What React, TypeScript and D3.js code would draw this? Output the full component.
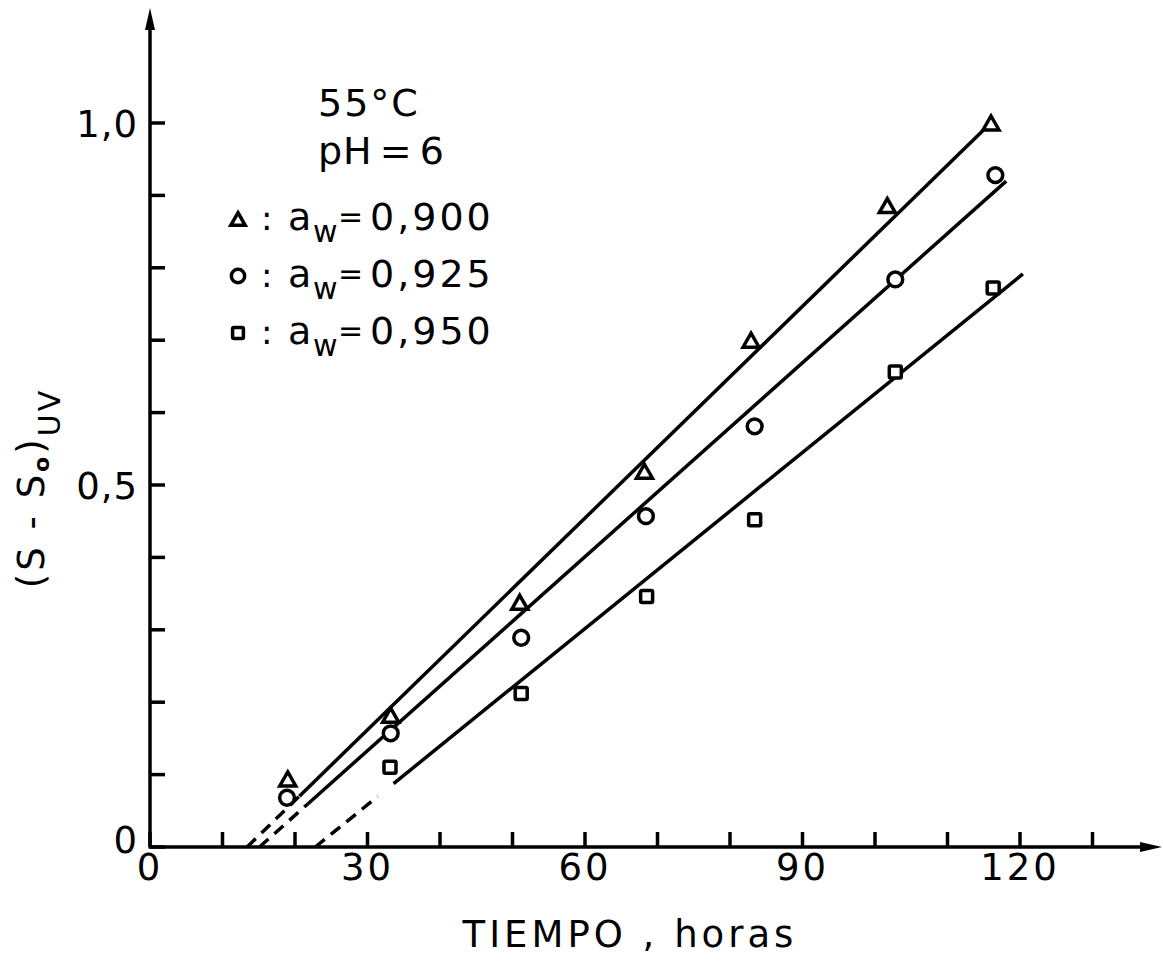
import React from "react";
import * as d3 from "d3";

// Measured absorbance increase (S - S0) at 55 °C, pH 6, by water activity
const hours900 = [19, 33.2, 51, 68.2, 82.9, 101.7, 116];
const vals900 = [0.094, 0.182, 0.338, 0.519, 0.7, 0.886, 1.0];
const hours925 = [18.9, 33.2, 51.2, 68.4, 83.4, 102.8, 116.6];
const vals925 = [0.068, 0.157, 0.289, 0.457, 0.581, 0.784, 0.928];
const hours950 = [33.1, 51.2, 68.5, 83.4, 102.8, 116.3];
const vals950 = [0.11, 0.212, 0.346, 0.452, 0.656, 0.772];

// Fitted straight lines: lag time (x-intercept) and slope, with drawn extents
const fitLag = [13.4, 15.1, 22.8];
const fitSlope = [0.00975, 0.00893, 0.00811];
const fitDashTo = [20.6, 21.8, 31.4];
const fitSolidFrom = [20.6, 21.8, 33.6];
const fitSolidTo = [114.9, 118.1, 120.4];

const legendValues = ["0,900", "0,925", "0,950"];
const markerKinds = ["triangle", "circle", "square"];

const xTickValues = d3.range(0, 131, 10);
const xLabelValues = [0, 30, 60, 90, 120];
const xLabelText = ["0", "30", "60", "90", "120"];
const yTickValues = d3.range(0, 10.5, 1).map((d) => d / 10);
const yLabelValues = [0, 0.5, 1.0];
const yLabelText = ["0", "0,5", "1,0"];

const W = 1163;
const H = 963;
const FONT = "'DejaVu Sans', sans-serif";
const SW = 3.5;

const x = d3.scaleLinear().domain([0, 120]).range([150, 1020]);
const y = d3.scaleLinear().domain([0, 1]).range([847, 123]);

function Marker({ kind, cx, cy, s }: { kind: string; cx: number; cy: number; s: number }) {
  if (kind === "triangle") {
    const w = 16 * s;
    const h = 14 * s;
    const p = `M${cx},${cy - h / 2}L${cx + w / 2},${cy + h / 2}L${cx - w / 2},${cy + h / 2}Z`;
    return <path d={p} fill="white" stroke="black" strokeWidth={SW} strokeLinejoin="miter" />;
  }
  if (kind === "circle") {
    return <circle cx={cx} cy={cy} r={7.4 * s} fill="white" stroke="black" strokeWidth={SW} />;
  }
  const a = 12 * s;
  return (
    <rect x={cx - a / 2} y={cy - a / 2} width={a} height={a} rx={1.5} fill="white" stroke="black" strokeWidth={SW} />
  );
}

export default function App() {
  const series = [
    { hours: hours900, vals: vals900 },
    { hours: hours925, vals: vals925 },
    { hours: hours950, vals: vals950 },
  ];

  const fitPath = (i: number, a: number, b: number) =>
    d3
      .line<number>()
      .x((h) => x(h))
      .y((h) => y(fitSlope[i] * (h - fitLag[i])))([a, b]) as string;

  const axisY0 = y(0);
  const axisX0 = x(0);

  return (
    <svg
      width={W}
      height={H}
      viewBox={`0 0 ${W} ${H}`}
      style={{ position: "absolute", left: 0, top: 0, background: "white" }}
      fontFamily={FONT}
    >
      <rect x={0} y={0} width={W} height={H} fill="white" />

      {/* axes */}
      <line x1={axisX0 - 1.5} y1={axisY0} x2={1148} y2={axisY0} stroke="black" strokeWidth={SW} />
      <path d={`M1162,${axisY0}L1140,${axisY0 - 5}L1140,${axisY0 + 5}Z`} fill="black" />
      <line x1={axisX0} y1={axisY0} x2={axisX0} y2={24} stroke="black" strokeWidth={SW} />
      <path d={`M${axisX0},8L${axisX0 - 5},30L${axisX0 + 5},30Z`} fill="black" />

      {xTickValues.map((t) => (
        <line key={`xt${t}`} x1={x(t)} x2={x(t)} y1={axisY0} y2={axisY0 - 15} stroke="black" strokeWidth={SW} />
      ))}
      {yTickValues.map((t) => (
        <line key={`yt${t}`} x1={axisX0} x2={axisX0 + 15} y1={y(t)} y2={y(t)} stroke="black" strokeWidth={SW} />
      ))}

      {xLabelValues.map((t, i) => (
        <text key={`xl${t}`} x={x(t)} y={axisY0 + 33} textAnchor="middle" fontSize={37} letterSpacing={3}>
          {xLabelText[i]}
        </text>
      ))}
      {yLabelValues.map((t, i) => (
        <text
          key={`yl${t}`}
          x={axisX0 - 12}
          y={y(t) + (t === 0 ? 6 : 14)}
          textAnchor="end"
          fontSize={37}
          letterSpacing={1}
        >
          {yLabelText[i]}
        </text>
      ))}

      <text x={630} y={947} textAnchor="middle" fontSize={37} letterSpacing={4}>
        TIEMPO , horas
      </text>

      <text transform="translate(44,488) rotate(-90)" textAnchor="middle" fontSize={37} letterSpacing={3}>
        (S - S
        <tspan fontSize={22} fontWeight="bold" dy={5}>o</tspan>
        <tspan dy={-5}>)</tspan>
        <tspan fontSize={30} dy={16}>UV</tspan>
      </text>

      {/* conditions and legend */}
      <text x={318} y={116} fontSize={38} letterSpacing={2}>
        55°C
      </text>
      <text x={318} y={164} fontSize={38} letterSpacing={1} wordSpacing={-6}>
        pH = 6
      </text>
      {legendValues.map((v, i) => {
        const base = 230 + i * 57;
        return (
          <g key={`lg${v}`}>
            <Marker kind={markerKinds[i]} cx={238} cy={base - 11} s={0.9} />
            <text x={261} y={base} fontSize={34}>:</text>
            <text x={288} y={base} fontSize={38}>a</text>
            <text x={313} y={base + 12} fontSize={30}>w</text>
            <text x={338} y={base - 3} fontSize={30}>=</text>
            <text x={370} y={base} fontSize={38} letterSpacing={3}>
              {v}
            </text>
          </g>
        );
      })}

      {/* fitted lines */}
      {fitLag.map((lag, i) => (
        <g key={`fit${i}`}>
          <path d={fitPath(i, lag, fitDashTo[i])} stroke="black" strokeWidth={SW} strokeDasharray="12 8" fill="none" />
          <path d={fitPath(i, fitSolidFrom[i], fitSolidTo[i])} stroke="black" strokeWidth={SW} fill="none" />
        </g>
      ))}

      {/* data points */}
      {series.map((s, i) =>
        s.hours.map((h, j) => (
          <Marker key={`m${i}-${j}`} kind={markerKinds[i]} cx={x(h)} cy={y(s.vals[j])} s={1} />
        ))
      )}
    </svg>
  );
}
